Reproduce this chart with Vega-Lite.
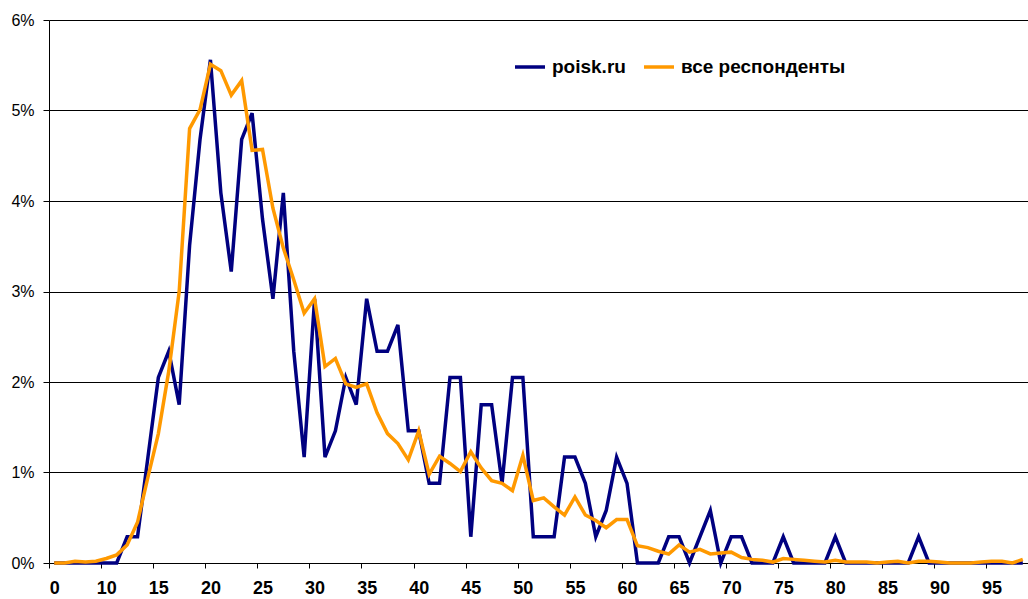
{
  "$schema": "https://vega.github.io/schema/vega-lite/v6.json",
  "autosize": {"type": "none"},
  "width": 979,
  "height": 543,
  "padding": {"left": 49, "top": 20, "right": 0, "bottom": 36},
  "background": "white",
  "config": {
    "view": {"stroke": null},
    "font": "Liberation Sans"
  },
  "data": {
    "values": [
      {"a":0,"s":"poisk.ru","v":0},{"a":6,"s":"poisk.ru","v":0},{"a":7,"s":"poisk.ru","v":0},{"a":8,"s":"poisk.ru","v":0},{"a":9,"s":"poisk.ru","v":0},{"a":10,"s":"poisk.ru","v":0},{"a":11,"s":"poisk.ru","v":0},{"a":12,"s":"poisk.ru","v":0.0029},{"a":13,"s":"poisk.ru","v":0.0029},{"a":14,"s":"poisk.ru","v":0.0117},{"a":15,"s":"poisk.ru","v":0.0205},{"a":16,"s":"poisk.ru","v":0.0234},{"a":17,"s":"poisk.ru","v":0.0175},{"a":18,"s":"poisk.ru","v":0.0351},{"a":19,"s":"poisk.ru","v":0.0468},{"a":20,"s":"poisk.ru","v":0.0556},{"a":21,"s":"poisk.ru","v":0.0409},{"a":22,"s":"poisk.ru","v":0.0322},{"a":23,"s":"poisk.ru","v":0.0468},{"a":24,"s":"poisk.ru","v":0.0497},{"a":25,"s":"poisk.ru","v":0.038},{"a":26,"s":"poisk.ru","v":0.0292},{"a":27,"s":"poisk.ru","v":0.0409},{"a":28,"s":"poisk.ru","v":0.0234},{"a":29,"s":"poisk.ru","v":0.0117},{"a":30,"s":"poisk.ru","v":0.0292},{"a":31,"s":"poisk.ru","v":0.0117},{"a":32,"s":"poisk.ru","v":0.0146},{"a":33,"s":"poisk.ru","v":0.0205},{"a":34,"s":"poisk.ru","v":0.0175},{"a":35,"s":"poisk.ru","v":0.0292},{"a":36,"s":"poisk.ru","v":0.0234},{"a":37,"s":"poisk.ru","v":0.0234},{"a":38,"s":"poisk.ru","v":0.0263},{"a":39,"s":"poisk.ru","v":0.0146},{"a":40,"s":"poisk.ru","v":0.0146},{"a":41,"s":"poisk.ru","v":0.0088},{"a":42,"s":"poisk.ru","v":0.0088},{"a":43,"s":"poisk.ru","v":0.0205},{"a":44,"s":"poisk.ru","v":0.0205},{"a":45,"s":"poisk.ru","v":0.0029},{"a":46,"s":"poisk.ru","v":0.0175},{"a":47,"s":"poisk.ru","v":0.0175},{"a":48,"s":"poisk.ru","v":0.0088},{"a":49,"s":"poisk.ru","v":0.0205},{"a":50,"s":"poisk.ru","v":0.0205},{"a":51,"s":"poisk.ru","v":0.0029},{"a":52,"s":"poisk.ru","v":0.0029},{"a":53,"s":"poisk.ru","v":0.0029},{"a":54,"s":"poisk.ru","v":0.0117},{"a":55,"s":"poisk.ru","v":0.0117},{"a":56,"s":"poisk.ru","v":0.0088},{"a":57,"s":"poisk.ru","v":0.0029},{"a":58,"s":"poisk.ru","v":0.0058},{"a":59,"s":"poisk.ru","v":0.0117},{"a":60,"s":"poisk.ru","v":0.0088},{"a":61,"s":"poisk.ru","v":0},{"a":62,"s":"poisk.ru","v":0},{"a":63,"s":"poisk.ru","v":0},{"a":64,"s":"poisk.ru","v":0.0029},{"a":65,"s":"poisk.ru","v":0.0029},{"a":66,"s":"poisk.ru","v":0},{"a":67,"s":"poisk.ru","v":0.0029},{"a":68,"s":"poisk.ru","v":0.0058},{"a":69,"s":"poisk.ru","v":0},{"a":70,"s":"poisk.ru","v":0.0029},{"a":71,"s":"poisk.ru","v":0.0029},{"a":72,"s":"poisk.ru","v":0},{"a":73,"s":"poisk.ru","v":0},{"a":74,"s":"poisk.ru","v":0},{"a":75,"s":"poisk.ru","v":0.0029},{"a":76,"s":"poisk.ru","v":0},{"a":77,"s":"poisk.ru","v":0},{"a":78,"s":"poisk.ru","v":0},{"a":79,"s":"poisk.ru","v":0},{"a":80,"s":"poisk.ru","v":0.0029},{"a":81,"s":"poisk.ru","v":0},{"a":82,"s":"poisk.ru","v":0},{"a":83,"s":"poisk.ru","v":0},{"a":84,"s":"poisk.ru","v":0},{"a":85,"s":"poisk.ru","v":0},{"a":86,"s":"poisk.ru","v":0},{"a":87,"s":"poisk.ru","v":0},{"a":88,"s":"poisk.ru","v":0.0029},{"a":89,"s":"poisk.ru","v":0},{"a":90,"s":"poisk.ru","v":0},{"a":91,"s":"poisk.ru","v":0},{"a":92,"s":"poisk.ru","v":0},{"a":93,"s":"poisk.ru","v":0},{"a":94,"s":"poisk.ru","v":0},{"a":95,"s":"poisk.ru","v":0},{"a":96,"s":"poisk.ru","v":0},{"a":97,"s":"poisk.ru","v":0},{"a":98,"s":"poisk.ru","v":0},
      {"a":0,"s":"все респонденты","v":0},{"a":6,"s":"все респонденты","v":0},{"a":7,"s":"все респонденты","v":0.0002},{"a":8,"s":"все респонденты","v":0.0001},{"a":9,"s":"все респонденты","v":0.0002},{"a":10,"s":"все респонденты","v":0.0005},{"a":11,"s":"все респонденты","v":0.0009},{"a":12,"s":"все респонденты","v":0.002},{"a":13,"s":"все респонденты","v":0.0045},{"a":14,"s":"все респонденты","v":0.0095},{"a":15,"s":"все респонденты","v":0.0143},{"a":16,"s":"все респонденты","v":0.0212},{"a":17,"s":"все респонденты","v":0.03},{"a":18,"s":"все респонденты","v":0.048},{"a":19,"s":"все респонденты","v":0.0501},{"a":20,"s":"все респонденты","v":0.0551},{"a":21,"s":"все респонденты","v":0.0544},{"a":22,"s":"все респонденты","v":0.0517},{"a":23,"s":"все респонденты","v":0.0533},{"a":24,"s":"все респонденты","v":0.0456},{"a":25,"s":"все респонденты","v":0.0457},{"a":26,"s":"все респонденты","v":0.0392},{"a":27,"s":"все респонденты","v":0.0348},{"a":28,"s":"все респонденты","v":0.0313},{"a":29,"s":"все респонденты","v":0.0276},{"a":30,"s":"все респонденты","v":0.0292},{"a":31,"s":"все респонденты","v":0.0217},{"a":32,"s":"все респонденты","v":0.0226},{"a":33,"s":"все респонденты","v":0.0198},{"a":34,"s":"все респонденты","v":0.0194},{"a":35,"s":"все респонденты","v":0.0198},{"a":36,"s":"все респонденты","v":0.0166},{"a":37,"s":"все респонденты","v":0.0143},{"a":38,"s":"все респонденты","v":0.0132},{"a":39,"s":"все респонденты","v":0.0114},{"a":40,"s":"все респонденты","v":0.0146},{"a":41,"s":"все респонденты","v":0.0098},{"a":42,"s":"все респонденты","v":0.0118},{"a":43,"s":"все респонденты","v":0.011},{"a":44,"s":"все респонденты","v":0.0101},{"a":45,"s":"все респонденты","v":0.0123},{"a":46,"s":"все респонденты","v":0.0105},{"a":47,"s":"все респонденты","v":0.0091},{"a":48,"s":"все респонденты","v":0.0088},{"a":49,"s":"все респонденты","v":0.008},{"a":50,"s":"все респонденты","v":0.0119},{"a":51,"s":"все респонденты","v":0.0069},{"a":52,"s":"все респонденты","v":0.0072},{"a":53,"s":"все респонденты","v":0.0062},{"a":54,"s":"все респонденты","v":0.0053},{"a":55,"s":"все респонденты","v":0.0073},{"a":56,"s":"все респонденты","v":0.0053},{"a":57,"s":"все респонденты","v":0.0047},{"a":58,"s":"все респонденты","v":0.0039},{"a":59,"s":"все респонденты","v":0.0048},{"a":60,"s":"все респонденты","v":0.0048},{"a":61,"s":"все респонденты","v":0.0019},{"a":62,"s":"все респонденты","v":0.0017},{"a":63,"s":"все респонденты","v":0.0013},{"a":64,"s":"все респонденты","v":0.001},{"a":65,"s":"все респонденты","v":0.002},{"a":66,"s":"все респонденты","v":0.0012},{"a":67,"s":"все респонденты","v":0.0015},{"a":68,"s":"все респонденты","v":0.001},{"a":69,"s":"все респонденты","v":0.0011},{"a":70,"s":"все респонденты","v":0.0012},{"a":71,"s":"все респонденты","v":0.0006},{"a":72,"s":"все респонденты","v":0.0004},{"a":73,"s":"все респонденты","v":0.0003},{"a":74,"s":"все респонденты","v":0.0001},{"a":75,"s":"все респонденты","v":0.0005},{"a":76,"s":"все респонденты","v":0.0004},{"a":77,"s":"все респонденты","v":0.0003},{"a":78,"s":"все респонденты","v":0.0002},{"a":79,"s":"все респонденты","v":0.0001},{"a":80,"s":"все респонденты","v":0.0003},{"a":81,"s":"все респонденты","v":0.0001},{"a":82,"s":"все респонденты","v":0.0001},{"a":83,"s":"все респонденты","v":0.0001},{"a":84,"s":"все респонденты","v":0},{"a":85,"s":"все респонденты","v":0.0001},{"a":86,"s":"все респонденты","v":0.0002},{"a":87,"s":"все респонденты","v":0},{"a":88,"s":"все респонденты","v":0.0002},{"a":89,"s":"все респонденты","v":0.0002},{"a":90,"s":"все респонденты","v":0.0001},{"a":91,"s":"все респонденты","v":0},{"a":92,"s":"все респонденты","v":0},{"a":93,"s":"все респонденты","v":0},{"a":94,"s":"все респонденты","v":0.0001},{"a":95,"s":"все респонденты","v":0.0002},{"a":96,"s":"все респонденты","v":0.0002},{"a":97,"s":"все респонденты","v":0},{"a":98,"s":"все респонденты","v":0.0004}
    ]
  },
  "mark": {"type": "line", "strokeWidth": 3.5, "strokeJoin": "miter", "strokeCap": "butt"},
  "encoding": {
    "x": {
      "field": "a",
      "type": "ordinal",
      "scale": {"type": "point", "padding": 0.5},
      "axis": {
        "title": null,
        "values": [0,10,15,20,25,30,35,40,45,50,55,60,65,70,75,80,85,90,95],
        "labelAngle": 0,
        "labelFont": "Liberation Sans",
        "labelFontSize": 18,
        "labelFontWeight": "bold",
        "labelColor": "#000000",
        "labelPadding": 11,
        "tickSize": 5,
        "tickColor": "#000000",
        "tickOffset": -5.2,
        "labelOffset": 5.2,
        "domainColor": "#000000",
        "domainWidth": 1,
        "grid": false
      }
    },
    "y": {
      "field": "v",
      "type": "quantitative",
      "scale": {"domain": [0, 0.06], "nice": false, "zero": true},
      "axis": {
        "title": null,
        "values": [0, 0.01, 0.02, 0.03, 0.04, 0.05, 0.06],
        "format": ".0%",
        "labelFont": "Liberation Sans",
        "labelFontSize": 16,
        "labelColor": "#000000",
        "labelPadding": 9,
        "tickSize": 6,
        "tickColor": "#000000",
        "domainColor": "#000000",
        "grid": true,
        "gridColor": "#000000",
        "gridWidth": 1
      }
    },
    "color": {
      "field": "s",
      "type": "nominal",
      "scale": {"domain": ["poisk.ru", "все респонденты"], "range": ["#000080", "#FF9900"]},
      "legend": {
        "title": null,
        "orient": "none",
        "direction": "horizontal",
        "legendX": 464,
        "legendY": 30,
        "padding": 0,
        "symbolType": "stroke",
        "symbolSize": 900,
        "symbolStrokeWidth": 3.5,
        "labelFont": "Liberation Sans",
        "labelFontSize": 19,
        "labelFontWeight": "bold",
        "labelColor": "#000000",
        "labelOffset": 5,
        "labelLimit": 400,
        "columnPadding": 11
      }
    }
  }
}
